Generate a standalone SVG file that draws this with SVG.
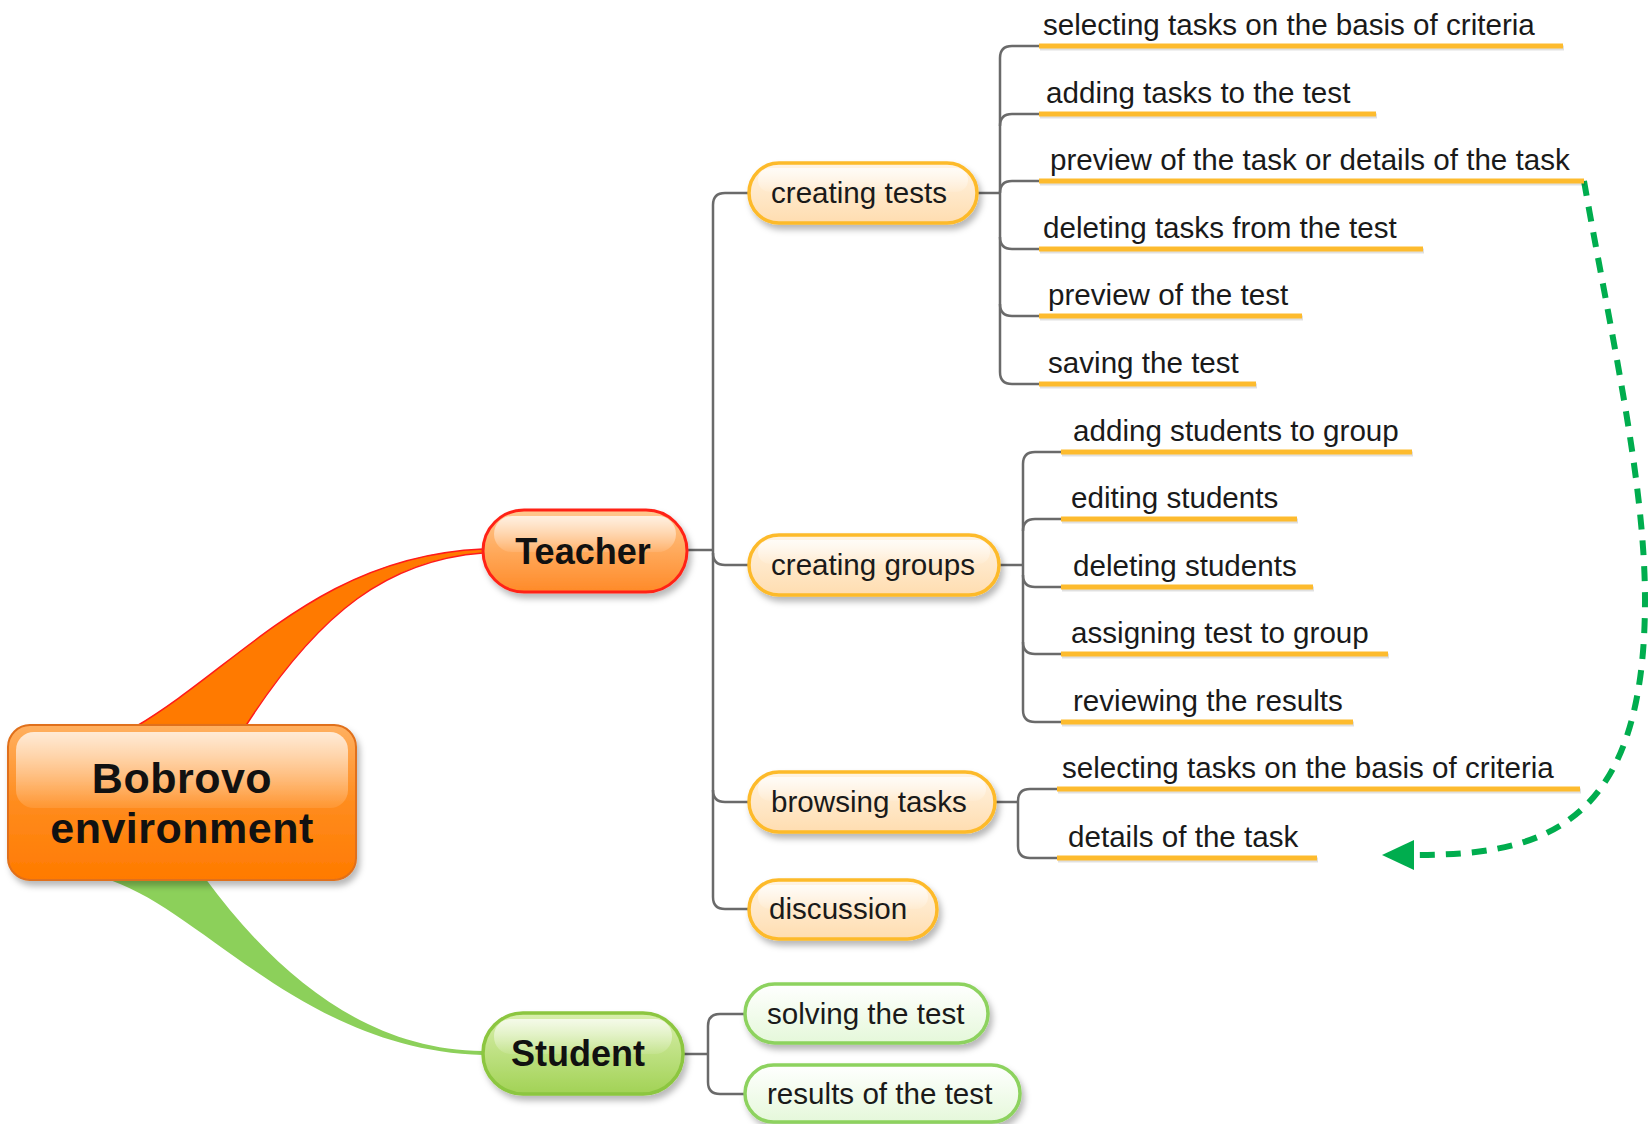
<svg xmlns="http://www.w3.org/2000/svg" width="1652" height="1124" viewBox="0 0 1652 1124">
<defs>
  <filter id="sh" x="-10%" y="-20%" width="125%" height="160%">
    <feDropShadow dx="3" dy="5" stdDeviation="3" flood-color="#000" flood-opacity="0.28"/>
  </filter>
  <linearGradient id="gRoot" x1="0" y1="0" x2="0" y2="1">
    <stop offset="0" stop-color="#FFB060"/>
    <stop offset="0.5" stop-color="#FF8C1E"/>
    <stop offset="1" stop-color="#FF7A00"/>
  </linearGradient>
  <linearGradient id="gTeacher" x1="0" y1="0" x2="0" y2="1">
    <stop offset="0" stop-color="#FFC990"/>
    <stop offset="1" stop-color="#FF8A28"/>
  </linearGradient>
  <linearGradient id="gStudent" x1="0" y1="0" x2="0" y2="1">
    <stop offset="0" stop-color="#D9EFAE"/>
    <stop offset="1" stop-color="#A2D255"/>
  </linearGradient>
  <linearGradient id="gSub" x1="0" y1="0" x2="0" y2="1">
    <stop offset="0" stop-color="#FFF4E4"/>
    <stop offset="1" stop-color="#FFDDB0"/>
  </linearGradient>
  <linearGradient id="gSubG" x1="0" y1="0" x2="0" y2="1">
    <stop offset="0" stop-color="#FFFFFF"/>
    <stop offset="1" stop-color="#E5F8DA"/>
  </linearGradient>
  <linearGradient id="gHi" x1="0" y1="0" x2="0" y2="1">
    <stop offset="0" stop-color="#FFFFFF" stop-opacity="0.75"/>
    <stop offset="1" stop-color="#FFFFFF" stop-opacity="0.1"/>
  </linearGradient>
  <marker id="arr" viewBox="0 0 32 30" refX="0" refY="15" markerWidth="32" markerHeight="30" markerUnits="userSpaceOnUse" orient="auto">
    <path d="M0,0 L32,15 L0,30 Z" fill="#00AD4E"/>
  </marker>
  <style>
    .conn{fill:none;stroke:#6A6A6A;stroke-width:2.5}
    .ul{fill:#FDBB2E}
    .uls{fill:#000;fill-opacity:0.12}
    .sub{fill:url(#gSub);stroke:#FDBA2A;stroke-width:3.5}
    .subg{fill:url(#gSubG);stroke:#8DD25E;stroke-width:3.5}
    .hi{fill:url(#gHi)}
    .t{font-family:"Liberation Sans",Arial,sans-serif;font-size:29.6px;fill:#1A1A1A}
    .tb{font-family:"Liberation Sans",Arial,sans-serif;font-weight:bold;fill:#111}
  </style>
</defs>

<g id="branches">
  <path d="M135,727 C240,665 320,556 483,549 L483,553 C390,560 320,610 245,727 Z" fill="#FF7A00" stroke="#FF1A1A" stroke-width="1.5"/>
  <path d="M103,878 C200,905 300,1050 483,1055 L483,1051 C370,1050 280,980 205,878 Z" fill="#8CD05A"/>
</g>

<g id="connectors">
  <path class="conn" d="M687,550 H713"/>
  <path class="conn" d="M749,193 H725 Q713,193 713,205 V897 Q713,909 725,909 H749"/>
  <path class="conn" d="M713,553 Q713,565 725,565 H749"/>
  <path class="conn" d="M713,790 Q713,802 725,802 H749"/>
  <path class="conn" d="M977,193 H1000"/>
  <path class="conn" d="M1039,46 H1012 Q1000,46 1000,58 V372 Q1000,384 1012,384 H1039"/>
  <path class="conn" d="M1000,126 Q1000,114 1012,114 H1039"/>
  <path class="conn" d="M1000,193 Q1000,181 1012,181 H1039"/>
  <path class="conn" d="M1000,237 Q1000,249 1012,249 H1039"/>
  <path class="conn" d="M1000,304 Q1000,316 1012,316 H1039"/>
  <path class="conn" d="M999,565 H1023"/>
  <path class="conn" d="M1061,452 H1035 Q1023,452 1023,464 V710 Q1023,722 1035,722 H1061"/>
  <path class="conn" d="M1023,531 Q1023,519 1035,519 H1061"/>
  <path class="conn" d="M1023,575 Q1023,587 1035,587 H1061"/>
  <path class="conn" d="M1023,642 Q1023,654 1035,654 H1061"/>
  <path class="conn" d="M995,802 H1018"/>
  <path class="conn" d="M1057,789 H1030 Q1018,789 1018,801 V846 Q1018,858 1030,858 H1057"/>
  <path class="conn" d="M683,1054 H708"/>
  <path class="conn" d="M745,1014 H720 Q708,1014 708,1026 V1082 Q708,1094 720,1094 H745"/>
  <path d="M1584,181 C1610,330 1645,480 1645,600 C1645,830 1540,855 1414,855" fill="none" stroke="#00AD4E" stroke-width="6" stroke-dasharray="15 11" marker-end="url(#arr)"/>
</g>

<g id="root">
  <rect x="8" y="725" width="348" height="155" rx="22" fill="url(#gRoot)" stroke="#E0701A" stroke-width="2" filter="url(#sh)"/>
  <rect x="16" y="732" width="332" height="76" rx="18" class="hi"/>
  <text class="tb" x="182" y="793" font-size="43" text-anchor="middle" letter-spacing="0.5" fill="#2A2A2A">Bobrovo</text>
  <text class="tb" x="182" y="843" font-size="43" text-anchor="middle" letter-spacing="0.5" fill="#2A2A2A">environment</text>
</g>

<g id="teacher">
  <rect x="483" y="510" width="204" height="82" rx="41" fill="url(#gTeacher)" stroke="#FF2418" stroke-width="3" filter="url(#sh)"/>
  <rect x="494" y="516" width="182" height="36" rx="18" class="hi"/>
  <text class="tb" x="583" y="564" font-size="36" text-anchor="middle">Teacher</text>
</g>

<g id="student">
  <rect x="483" y="1013" width="200" height="81" rx="40" fill="url(#gStudent)" stroke="#8CC63F" stroke-width="3.5" filter="url(#sh)"/>
  <rect x="494" y="1019" width="178" height="35" rx="17" class="hi"/>
  <text class="tb" x="578" y="1066" font-size="36" text-anchor="middle">Student</text>
</g>

<g id="creating-tests">
  <rect x="749" y="163" width="228" height="60" rx="30" class="sub" filter="url(#sh)"/>
  <rect x="758" y="168" width="210" height="24" rx="12" class="hi"/>
  <text class="t" x="771" y="203">creating tests</text>
</g>
<g id="creating-groups">
  <rect x="749" y="535" width="250" height="60" rx="30" class="sub" filter="url(#sh)"/>
  <rect x="758" y="540" width="232" height="24" rx="12" class="hi"/>
  <text class="t" x="771" y="575">creating groups</text>
</g>
<g id="browsing-tasks">
  <rect x="749" y="772" width="246" height="60" rx="30" class="sub" filter="url(#sh)"/>
  <rect x="758" y="777" width="228" height="24" rx="12" class="hi"/>
  <text class="t" x="771" y="812">browsing tasks</text>
</g>
<g id="discussion">
  <rect x="749" y="880" width="188" height="59" rx="29.5" class="sub" filter="url(#sh)"/>
  <rect x="758" y="885" width="170" height="24" rx="12" class="hi"/>
  <text class="t" x="769" y="919">discussion</text>
</g>
<g id="solving-the-test">
  <rect x="745" y="984" width="243" height="59" rx="29.5" class="subg" filter="url(#sh)"/>
  <text class="t" x="767" y="1024">solving the test</text>
</g>
<g id="results-of-the-test">
  <rect x="745" y="1065" width="275" height="57" rx="28.5" class="subg" filter="url(#sh)"/>
  <text class="t" x="767" y="1104">results of the test</text>
</g>

<g id="ct-1"><rect class="uls" x="1040" y="45.5" width="524" height="5"/><rect class="ul" x="1039" y="43.5" width="524" height="5"/><text class="t" x="1043" y="35">selecting tasks on the basis of criteria</text></g>
<g id="ct-2"><rect class="uls" x="1040" y="113.5" width="337" height="5"/><rect class="ul" x="1039" y="111.5" width="337" height="5"/><text class="t" x="1046" y="103">adding tasks to the test</text></g>
<g id="ct-3"><rect class="uls" x="1040" y="180.5" width="545" height="5"/><rect class="ul" x="1039" y="178.5" width="545" height="5"/><text class="t" x="1050" y="170">preview of the task or details of the task</text></g>
<g id="ct-4"><rect class="uls" x="1040" y="248.5" width="384" height="5"/><rect class="ul" x="1039" y="246.5" width="384" height="5"/><text class="t" x="1043" y="238">deleting tasks from the test</text></g>
<g id="ct-5"><rect class="uls" x="1040" y="315.5" width="263" height="5"/><rect class="ul" x="1039" y="313.5" width="263" height="5"/><text class="t" x="1048" y="305">preview of the test</text></g>
<g id="ct-6"><rect class="uls" x="1040" y="383.5" width="217" height="5"/><rect class="ul" x="1039" y="381.5" width="217" height="5"/><text class="t" x="1048" y="373">saving the test</text></g>

<g id="cg-1"><rect class="uls" x="1062" y="451.5" width="351" height="5"/><rect class="ul" x="1061" y="449.5" width="351" height="5"/><text class="t" x="1073" y="441">adding students to group</text></g>
<g id="cg-2"><rect class="uls" x="1062" y="518.5" width="236" height="5"/><rect class="ul" x="1061" y="516.5" width="236" height="5"/><text class="t" x="1071" y="508">editing students</text></g>
<g id="cg-3"><rect class="uls" x="1062" y="586.5" width="252" height="5"/><rect class="ul" x="1061" y="584.5" width="252" height="5"/><text class="t" x="1073" y="576">deleting students</text></g>
<g id="cg-4"><rect class="uls" x="1062" y="653.5" width="327" height="5"/><rect class="ul" x="1061" y="651.5" width="327" height="5"/><text class="t" x="1071" y="643">assigning test to group</text></g>
<g id="cg-5"><rect class="uls" x="1062" y="721.5" width="292" height="5"/><rect class="ul" x="1061" y="719.5" width="292" height="5"/><text class="t" x="1073" y="711">reviewing the results</text></g>

<g id="bt-1"><rect class="uls" x="1058" y="788.5" width="523" height="5"/><rect class="ul" x="1057" y="786.5" width="523" height="5"/><text class="t" x="1062" y="778">selecting tasks on the basis of criteria</text></g>
<g id="bt-2"><rect class="uls" x="1058" y="857.5" width="260" height="5"/><rect class="ul" x="1057" y="855.5" width="260" height="5"/><text class="t" x="1068" y="847">details of the task</text></g>
</svg>
